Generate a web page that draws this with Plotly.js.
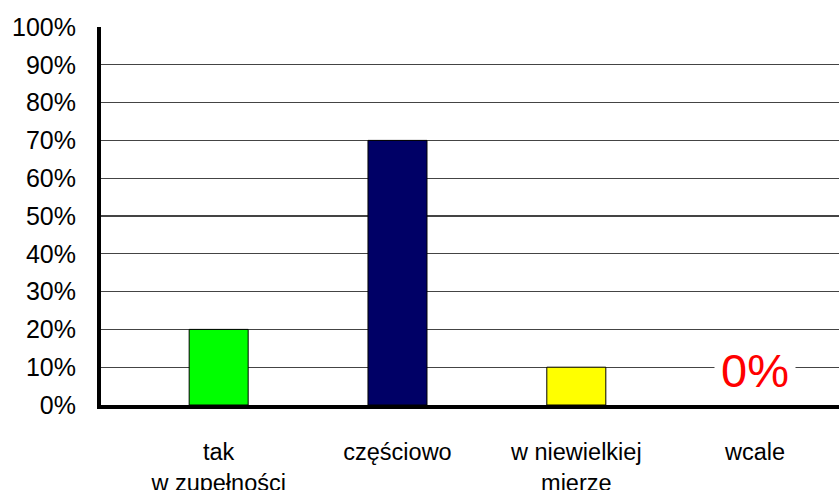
<!DOCTYPE html>
<html>
<head>
<meta charset="utf-8">
<script src="https://cdn.plot.ly/plotly-3.0.1.min.js"></script>
<style>html,body{margin:0;padding:0;background:#fff;}#chart{width:839px;height:490px;}</style>
</head>
<body>
<div id="chart"></div>
<script>
var categories = ["tak<br>w zupełności", "częściowo", "w niewielkiej<br>mierze", "wcale"];
var values = [20, 70, 10, 0];
var barColors = ["#00FF00", "#000066", "#FFFF00", "#FF0000"];
var yTicks = [0, 10, 20, 30, 40, 50, 60, 70, 80, 90, 100];
var zeroLabelCategory = "wcale";
var zeroLabelText = "0%";

var trace = {
  type: "bar",
  x: categories,
  y: values,
  width: 0.33,
  marker: {color: barColors, line: {color: "#000", width: values.map(function(v){return v > 0 ? 1 : 0;})}},
  hoverinfo: "none"
};

var zeroIdx = categories.indexOf(zeroLabelCategory);

var layout = {
  width: 839, height: 490,
  margin: {l: 101, r: 0, t: 27, b: 85},
  paper_bgcolor: "#fff", plot_bgcolor: "#fff",
  showlegend: false,
  font: {family: "Liberation Sans, Arial, sans-serif", size: 25, color: "#000"},
  xaxis: {
    type: "category",
    range: [-0.658, 3.469],
    showgrid: false,
    showline: true, linecolor: "#000", linewidth: 4,
    ticks: "outside", ticklen: 23, tickcolor: "rgba(0,0,0,0)",
    tickfont: {size: 23.5},
    zeroline: false, fixedrange: true
  },
  yaxis: {
    range: [0, 100],
    tickvals: yTicks,
    ticktext: yTicks.map(function(v){return v + "%";}),
    showgrid: true, gridcolor: "#444", gridwidth: 1.2,
    showline: true, linecolor: "#000", linewidth: 4,
    ticks: "outside", ticklen: 16, tickcolor: "rgba(0,0,0,0)",
    tickfont: {size: 25},
    zeroline: false, fixedrange: true
  },
  annotations: [{
    x: categories[zeroIdx], y: values[zeroIdx],
    xref: "x", yref: "y",
    text: zeroLabelText,
    showarrow: false,
    yshift: 35,
    font: {size: 47, color: "#FF0000"},
    bgcolor: "#fff", borderpad: 6
  }]
};

Plotly.newPlot("chart", [trace], layout, {displayModeBar: false, staticPlot: true});
</script>
</body>
</html>
